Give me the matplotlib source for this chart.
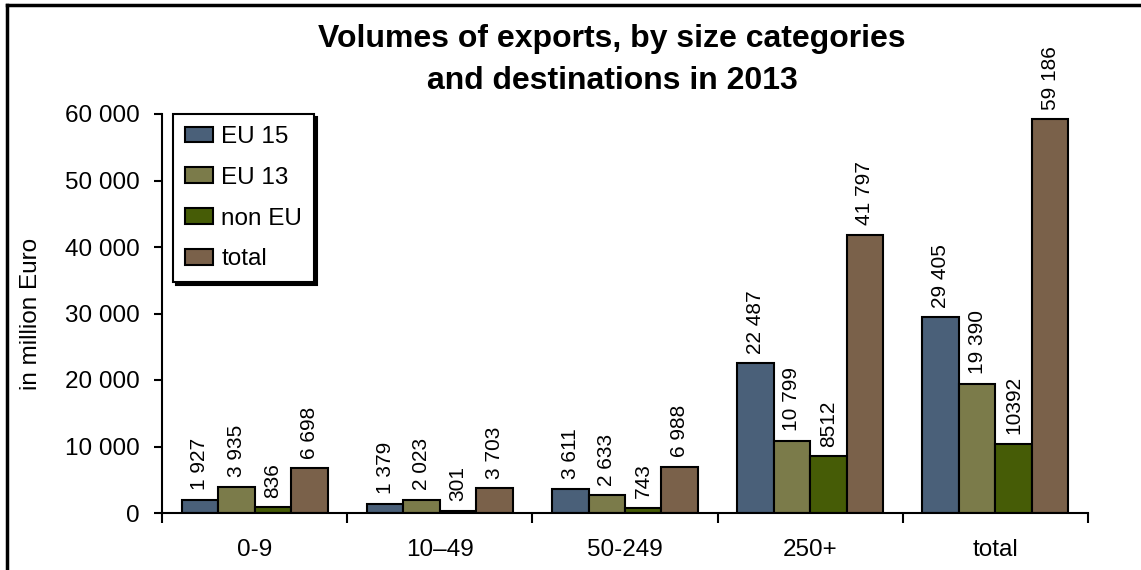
import matplotlib
matplotlib.use("Agg")
import matplotlib.pyplot as plt
import numpy as np
from matplotlib.lines import Line2D
from matplotlib.patches import Rectangle
from matplotlib.legend_handler import HandlerPatch

plt.rcParams['font.family'] = ['Liberation Sans', 'DejaVu Sans']

categories = ["0-9", "10\u201349", "50-249", "250+", "total"]
series_names = ["EU 15", "EU 13", "non EU", "total"]
eu15 = [1927, 1379, 3611, 22487, 29405]
eu13 = [3935, 2023, 2633, 10799, 19390]
non_eu = [836, 301, 743, 8512, 10392]
total = [6698, 3703, 6988, 41797, 59186]
eu15_labels = ["1 927", "1 379", "3 611", "22 487", "29 405"]
eu13_labels = ["3 935", "2 023", "2 633", "10 799", "19 390"]
non_eu_labels = ["836", "301", "743", "8512", "10392"]
total_labels = ["6 698", "3 703", "6 988", "41 797", "59 186"]
yticks = [0, 10000, 20000, 30000, 40000, 50000, 60000]
ytick_labels = ["0", "10 000", "20 000", "30 000", "40 000", "50 000", "60 000"]

colors = ["#4A6079", "#7B7B4A", "#465C06", "#7A614A"]
series = [eu15, eu13, non_eu, total]
labels = [eu15_labels, eu13_labels, non_eu_labels, total_labels]

W, H = 1141, 570
fig = plt.figure(figsize=(W / 100, H / 100), dpi=100)
ax = fig.add_axes([162 / W, 1 - 513 / H, (1088 - 162) / W, (513 - 114) / H])

x = np.arange(len(categories))
bw = 0.197
for i, (vals, labs, c, name) in enumerate(zip(series, labels, colors, series_names)):
    pos = x + (i - 1.5) * bw
    ax.bar(pos, vals, width=bw, color=c, edgecolor="black", linewidth=1.5, label=name)
    for px, v, lab in zip(pos, vals, labs):
        ax.annotate(lab, (px, v), xytext=(0, 7), textcoords="offset points",
                    rotation=90, ha="center", va="bottom", fontsize=15)

ax.set_xlim(-0.5, len(categories) - 0.5)
ax.set_ylim(0, 60000)
ax.set_yticks(yticks)
ax.set_yticklabels(ytick_labels, fontsize=17.5)
ax.set_xticks(np.arange(-0.5, len(categories), 1.0))
ax.set_xticklabels([])
ax.set_xticks(x, minor=True)
ax.set_xticklabels(categories, minor=True, fontsize=17.5)
ax.tick_params(axis="x", which="major", direction="out", length=7, width=1.5)
ax.tick_params(axis="x", which="minor", length=0, pad=19)
ax.tick_params(axis="y", direction="out", length=6, width=1.5, pad=10)
for s in ["top", "right"]:
    ax.spines[s].set_visible(False)
for s in ["left", "bottom"]:
    ax.spines[s].set_linewidth(1.5)
ax.set_ylabel("in million Euro", fontsize=17.5)
ax.yaxis.set_label_coords(-0.13, 0.5)

ax.set_title("Volumes of exports, by size categories\nand destinations in 2013",
             fontsize=23, fontweight="bold", x=(612 - 162) / (1088 - 162), y=1.043,
             linespacing=1.5)


def square_patch(legend, orig_handle, xdescent, ydescent, width, height, fontsize):
    return Rectangle((-xdescent + width - height, -ydescent), height, height)


leg = ax.legend(loc="upper left", bbox_to_anchor=((173 - 162) / (1088 - 162), 1.0),
                fontsize=17.5, frameon=True, fancybox=False, edgecolor="black",
                handlelength=1.15, handleheight=0.62, handletextpad=0.33,
                labelspacing=0.77, borderpad=0.5, borderaxespad=0,
                shadow={"color": "black", "alpha": 1},
                handler_map={Rectangle: HandlerPatch(patch_func=square_patch)})
leg.get_frame().set_linewidth(1.5)

# outer frame (left and top edges)
fig.add_artist(Line2D([7 / W, 7 / W], [0, 1 - 5 / H], transform=fig.transFigure,
                      color="black", linewidth=2.5))
fig.add_artist(Line2D([7 / W, 1], [1 - 5 / H, 1 - 5 / H], transform=fig.transFigure,
                      color="black", linewidth=2.5))

fig.savefig("out.png", dpi=100)
